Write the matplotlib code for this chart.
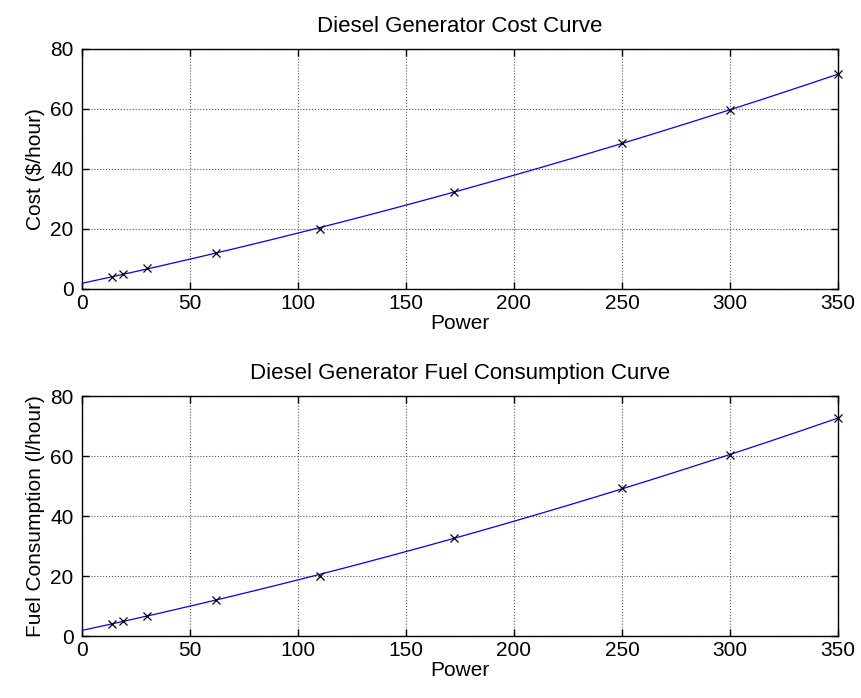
import numpy as np
import matplotlib
matplotlib.use("Agg")
import matplotlib.pyplot as plt

# measured operating points of the generator
power = [14, 19, 30, 62, 110, 172, 250, 300, 350]
cost = [3.9, 4.9, 6.9, 12.1, 20.1, 32.4, 48.6, 59.7, 71.6]
fuel = [3.9, 5.0, 6.8, 12.0, 20.1, 32.8, 49.2, 60.3, 72.7]

x_ticks = [0, 50, 100, 150, 200, 250, 300, 350]
y_ticks = [0, 20, 40, 60, 80]

plt.rcParams['font.family'] = ['Liberation Sans', 'DejaVu Sans']
plt.rcParams['font.size'] = 15

fig = plt.figure(figsize=(8.62, 6.98), dpi=100)
W, H = 862.0, 698.0
ax1 = fig.add_axes([82 / W, 1 - 289 / H, 756 / W, 240 / H])
ax2 = fig.add_axes([82 / W, 1 - 636 / H, 756 / W, 240 / H])

def drawCurve(ax, y, title, ylabel):
	# quadratic fit through the measured points
	coef = np.polyfit(power, y, 2)
	xs = np.linspace(0, 350, 200)
	ax.plot(xs, np.polyval(coef, xs), color=(0, 0, 1), lw=0.9, zorder=3)
	ax.plot(power, y, 'x', color='black', ms=6, mew=0.9, zorder=4, clip_on=False)

	ax.set_xlim(0, 350)
	ax.set_ylim(0, 80)
	ax.set_xticks(x_ticks)
	ax.set_yticks(y_ticks)
	ax.grid(True, linestyle=':', color='#555555', lw=0.8, zorder=0)
	ax.tick_params(direction='in', top=True, right=True, length=5, width=1)
	ax.tick_params(axis='y', pad=6)
	for s in ax.spines.values():
		s.set_linewidth(1.0)
	ax.set_title(title, fontsize=16, pad=12)
	ax.set_xlabel("Power", labelpad=1)
	ax.set_ylabel(ylabel, labelpad=4)

drawCurve(ax1, cost, "Diesel Generator Cost Curve", "Cost ($/hour)")
drawCurve(ax2, fuel, "Diesel Generator Fuel Consumption Curve", "Fuel Consumption (l/hour)")

fig.savefig("out.png", dpi=100)
